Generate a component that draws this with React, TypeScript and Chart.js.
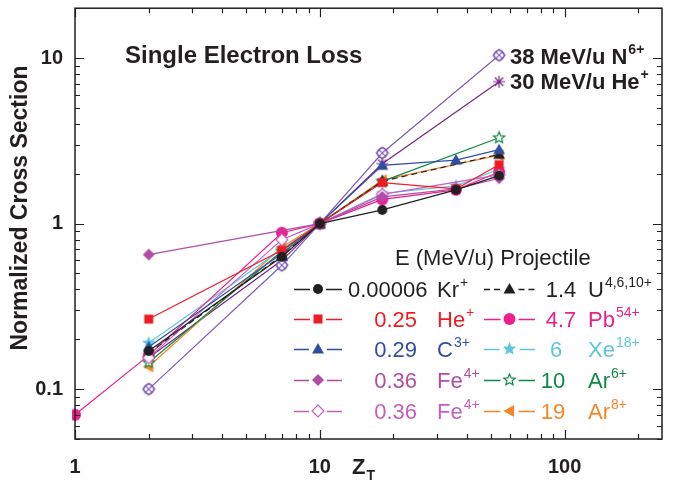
import React, { useEffect, useRef } from 'react';
import { Chart, registerables } from 'chart.js';
Chart.register(...registerables);

// ---------- data ----------
const X_TICK_LABELS = [1, 10, 100];
const Y_TICK_LABELS = [0.1, 1, 10];

const krX = [2, 7, 10, 18, 36, 54];
const krY = [0.17, 0.63, 1, 1.21, 1.6, 1.95];
const he025X = [2, 7, 10, 18, 36, 54];
const he025Y = [0.265, 0.69, 1, 1.77, 1.62, 2.27];
const c3X = [2, 7, 10, 18, 36, 54];
const c3Y = [0.18, 0.66, 1, 2.25, 2.42, 2.8];
const feAX = [2, 10, 18, 36, 54];
const feAY = [0.65, 1, 1.45, 1.62, 1.88];
const feBX = [2, 7, 10, 18, 54];
const feBY = [0.155, 0.8, 1, 1.5, 1.97];
const uX = [2, 7, 10, 18, 54];
const uY = [0.165, 0.64, 1, 1.8, 2.62];
const pbX = [1, 2, 7, 10, 18, 36, 54];
const pbY = [0.07, 0.16, 0.88, 1, 1.4, 1.6, 2.05];
const xeX = [2, 7, 10, 18, 36, 54];
const xeY = [0.19, 0.7, 1, 1.52, 1.69, 2.13];
const ar6X = [2, 7, 10, 18, 54];
const ar6Y = [0.145, 0.68, 1, 1.8, 3.3];
const ar8X = [2, 7, 10, 18, 54];
const ar8Y = [0.137, 0.72, 1, 1.83, 2.59];
const n6X = [2, 7, 10, 18, 54];
const n6Y = [0.1, 0.56, 1, 2.67, 10.4];
const he30X = [2, 7, 10, 18, 54];
const he30Y = [0.155, 0.6, 1, 2.3, 7.2];

const ENERGIES = ['0.00006', '0.25', '0.29', '0.36', '0.36', '1.4', '4.7', '6', '10', '19', '38', '30'];
const IONS = ['Kr', 'He', 'C', 'Fe', 'Fe', 'U', 'Pb', 'Xe', 'Ar', 'Ar', 'N', 'He'];
const CHARGES = ['+', '+', '3+', '4+', '4+', '4,6,10+', '54+', '18+', '6+', '8+', '6+', '+'];

// ---------- styles ----------
const FONT = '"Liberation Sans", Arial, Helvetica, sans-serif';
const INK = '#231f20';

type Marker = 'circle' | 'square' | 'triangle' | 'triangleLeft' | 'diamond' | 'diamondOpen' | 'star' | 'starOpen' | 'xcircle' | 'asterisk';

const SERIES: { xs: number[]; ys: number[]; color: string; marker: Marker; dash?: number[]; r: number }[] = [
  { xs: krX, ys: krY, color: INK, marker: 'circle', r: 5 },
  { xs: he025X, ys: he025Y, color: '#ed1c24', marker: 'square', r: 5 },
  { xs: c3X, ys: c3Y, color: '#2f4ea2', marker: 'triangle', r: 6 },
  { xs: feAX, ys: feAY, color: '#b04ea6', marker: 'diamond', r: 6 },
  { xs: feBX, ys: feBY, color: '#c45fc0', marker: 'diamondOpen', r: 6 },
  { xs: uX, ys: uY, color: INK, marker: 'triangle', dash: [6, 4], r: 6 },
  { xs: pbX, ys: pbY, color: '#ec1f8c', marker: 'circle', r: 6 },
  { xs: xeX, ys: xeY, color: '#5ec7df', marker: 'star', r: 7 },
  { xs: ar6X, ys: ar6Y, color: '#0f8a46', marker: 'starOpen', r: 6 },
  { xs: ar8X, ys: ar8Y, color: '#f5862a', marker: 'triangleLeft', r: 6 },
  { xs: n6X, ys: n6Y, color: '#7d5db7', marker: 'xcircle', r: 6 },
  { xs: he30X, ys: he30Y, color: '#7a2585', marker: 'asterisk', r: 6 },
];

function starPath(ctx: CanvasRenderingContext2D, x: number, y: number, r: number) {
  const inner = r * 0.45;
  ctx.beginPath();
  for (let i = 0; i < 10; i++) {
    const a = -Math.PI / 2 + (i * Math.PI) / 5;
    const rr = i % 2 === 0 ? r : inner;
    const px = x + rr * Math.cos(a);
    const py = y + rr * Math.sin(a);
    if (i === 0) ctx.moveTo(px, py);
    else ctx.lineTo(px, py);
  }
  ctx.closePath();
}

function drawMarker(ctx: CanvasRenderingContext2D, type: Marker, x: number, y: number, r: number, color: string) {
  ctx.save();
  ctx.setLineDash([]);
  ctx.strokeStyle = color;
  ctx.fillStyle = color;
  ctx.lineWidth = 1.2;
  switch (type) {
    case 'circle':
      ctx.beginPath();
      ctx.arc(x, y, r, 0, Math.PI * 2);
      ctx.fill();
      break;
    case 'square':
      ctx.fillRect(x - r * 0.9, y - r * 0.9, r * 1.8, r * 1.8);
      break;
    case 'triangle':
      ctx.beginPath();
      ctx.moveTo(x, y - r);
      ctx.lineTo(x + r, y + r * 0.75);
      ctx.lineTo(x - r, y + r * 0.75);
      ctx.closePath();
      ctx.fill();
      break;
    case 'triangleLeft':
      ctx.beginPath();
      ctx.moveTo(x - r, y);
      ctx.lineTo(x + r * 0.75, y - r);
      ctx.lineTo(x + r * 0.75, y + r);
      ctx.closePath();
      ctx.fill();
      break;
    case 'diamond':
    case 'diamondOpen':
      ctx.beginPath();
      ctx.moveTo(x, y - r);
      ctx.lineTo(x + r, y);
      ctx.lineTo(x, y + r);
      ctx.lineTo(x - r, y);
      ctx.closePath();
      if (type === 'diamond') ctx.fill();
      else {
        ctx.fillStyle = '#ffffff';
        ctx.fill();
        ctx.stroke();
      }
      break;
    case 'star':
      starPath(ctx, x, y, r);
      ctx.fill();
      break;
    case 'starOpen':
      starPath(ctx, x, y, r);
      ctx.fillStyle = '#ffffff';
      ctx.fill();
      ctx.stroke();
      break;
    case 'xcircle': {
      ctx.beginPath();
      ctx.arc(x, y, r * 0.85, 0, Math.PI * 2);
      ctx.fillStyle = '#ffffff';
      ctx.fill();
      ctx.stroke();
      ctx.beginPath();
      ctx.moveTo(x, y - r);
      ctx.lineTo(x + r, y);
      ctx.lineTo(x, y + r);
      ctx.lineTo(x - r, y);
      ctx.closePath();
      ctx.moveTo(x - r * 0.6, y - r * 0.6);
      ctx.lineTo(x + r * 0.6, y + r * 0.6);
      ctx.moveTo(x + r * 0.6, y - r * 0.6);
      ctx.lineTo(x - r * 0.6, y + r * 0.6);
      ctx.stroke();
      break;
    }
    case 'asterisk': {
      ctx.beginPath();
      for (let i = 0; i < 4; i++) {
        const a = (i * Math.PI) / 4;
        ctx.moveTo(x - r * Math.cos(a), y - r * Math.sin(a));
        ctx.lineTo(x + r * Math.cos(a), y + r * Math.sin(a));
      }
      ctx.stroke();
      break;
    }
  }
  ctx.restore();
}

function markerCanvas(type: Marker, r: number, color: string): HTMLCanvasElement {
  const size = Math.ceil(r * 2 + 6);
  const c = document.createElement('canvas');
  c.width = size;
  c.height = size;
  const ctx = c.getContext('2d')!;
  drawMarker(ctx, type, size / 2, size / 2, r, color);
  return c;
}

type Piece = { t: string; sup?: boolean; sub?: boolean };

function drawRich(
  ctx: CanvasRenderingContext2D,
  pieces: Piece[],
  x: number,
  y: number,
  size: number,
  weight: string,
  color: string,
  align: 'left' | 'right' | 'center' = 'left'
) {
  ctx.save();
  ctx.fillStyle = color;
  ctx.textBaseline = 'alphabetic';
  ctx.textAlign = 'left';
  const main = `${weight} ${size}px ${FONT}`;
  const small = `${weight} ${Math.round(size * 0.64)}px ${FONT}`;
  let w = 0;
  for (const p of pieces) {
    ctx.font = p.sup || p.sub ? small : main;
    w += ctx.measureText(p.t).width + (p.sup || p.sub ? 1 : 0);
  }
  let cx = align === 'left' ? x : align === 'right' ? x - w : x - w / 2;
  for (const p of pieces) {
    if (p.sup || p.sub) {
      ctx.font = small;
      const dy = p.sup ? -size * 0.45 : size * 0.28;
      ctx.fillText(p.t, cx + 1, y + dy);
      cx += ctx.measureText(p.t).width + 1;
    } else {
      ctx.font = main;
      ctx.fillText(p.t, cx, y);
      cx += ctx.measureText(p.t).width;
    }
  }
  ctx.restore();
}

const decorPlugin = {
  id: 'decor',
  afterDraw(chart: any) {
    const ctx: CanvasRenderingContext2D = chart.ctx;
    const { left, right, top, bottom } = chart.chartArea;
    const xs = chart.scales.x;
    const ys = chart.scales.y;
    ctx.save();
    // frame
    ctx.strokeStyle = INK;
    ctx.lineWidth = 1.5;
    ctx.strokeRect(left, top, right - left, bottom - top);
    // ticks
    ctx.lineWidth = 1.2;
    ctx.beginPath();
    for (const d of [1, 10, 100]) {
      for (let m = 1; m <= 9; m++) {
        const v = d * m;
        if (v < xs.min || v > xs.max) continue;
        const px = Math.round(xs.getPixelForValue(v)) + 0.5;
        const len = m === 1 ? 9 : 5;
        ctx.moveTo(px, bottom);
        ctx.lineTo(px, bottom - len);
        ctx.moveTo(px, top);
        ctx.lineTo(px, top + len);
      }
    }
    for (const d of [0.01, 0.1, 1, 10]) {
      for (let m = 1; m <= 9; m++) {
        const v = d * m;
        if (v < ys.min * 0.999 || v > ys.max * 1.001) continue;
        const py = Math.round(ys.getPixelForValue(v)) + 0.5;
        const len = m === 1 ? 9 : 5;
        ctx.moveTo(left, py);
        ctx.lineTo(left + len, py);
        ctx.moveTo(right, py);
        ctx.lineTo(right - len, py);
      }
    }
    ctx.stroke();
    // tick labels
    ctx.fillStyle = INK;
    ctx.font = `bold 20px ${FONT}`;
    ctx.textAlign = 'center';
    ctx.textBaseline = 'middle';
    for (const v of X_TICK_LABELS) {
      ctx.fillText(String(v), xs.getPixelForValue(v), bottom + 28);
    }
    ctx.textAlign = 'right';
    for (const v of Y_TICK_LABELS) {
      ctx.fillText(String(v), left - 12, ys.getPixelForValue(v));
    }
    // axis titles
    drawRich(ctx, [{ t: 'Z' }, { t: 'T', sub: true }], 352, 474, 22, 'bold', INK, 'left');
    ctx.save();
    ctx.translate(27, 208);
    ctx.rotate(-Math.PI / 2);
    ctx.font = `bold 23px ${FONT}`;
    ctx.textAlign = 'center';
    ctx.textBaseline = 'alphabetic';
    ctx.fillText('Normalized Cross Section', 0, 0);
    ctx.restore();
    // annotations
    drawRich(ctx, [{ t: 'Single Electron Loss' }], 125, 63, 24, 'bold', INK, 'left');
    drawRich(ctx, [{ t: `${ENERGIES[10]} MeV/u ${IONS[10]}` }, { t: CHARGES[10], sup: true }], 510, 64, 22, 'bold', INK, 'left');
    drawRich(ctx, [{ t: `${ENERGIES[11]} MeV/u ${IONS[11]}` }, { t: CHARGES[11], sup: true }], 510, 89, 22, 'bold', INK, 'left');
    // legend
    drawRich(ctx, [{ t: 'E (MeV/u) Projectile' }], 395, 265, 22, 'normal', INK, 'left');
    const rows = [289, 319, 349, 380, 411];
    const drawEntry = (i: number, lx0: number, lx1: number, row: number, valX: number, valAlign: 'left' | 'right' | 'center', ionX: number) => {
      const s = SERIES[i];
      const mx = (lx0 + lx1) / 2;
      const gap = s.r + 3;
      ctx.save();
      ctx.strokeStyle = s.color;
      ctx.lineWidth = 1.3;
      ctx.setLineDash(s.dash || []);
      ctx.beginPath();
      ctx.moveTo(lx0, row + 0.5);
      ctx.lineTo(mx - gap, row + 0.5);
      ctx.moveTo(mx + gap, row + 0.5);
      ctx.lineTo(lx1, row + 0.5);
      ctx.stroke();
      ctx.restore();
      drawMarker(ctx, s.marker, mx, row, s.r, s.color);
      drawRich(ctx, [{ t: ENERGIES[i] }], valX, row + 8, 22, 'normal', s.color, valAlign);
      drawRich(ctx, [{ t: IONS[i] }, { t: CHARGES[i], sup: true }], ionX, row + 8, 22, 'normal', s.color, 'left');
    };
    // left column
    drawEntry(0, 294, 342, rows[0], 348, 'left', 437);
    for (let k = 1; k <= 4; k++) drawEntry(k, 294, 342, rows[k], 417, 'right', 437);
    // right column
    const rightVal = [561, 561, 556, 553, 553];
    for (let k = 0; k < 5; k++) drawEntry(5 + k, 484, 535, rows[k], rightVal[k], 'center', 588);
    ctx.restore();
  },
};

export default function App() {
  const ref = useRef<HTMLCanvasElement | null>(null);
  useEffect(() => {
    if (!ref.current) return;
    const datasets = SERIES.map((s) => ({
      data: s.xs.map((x, i) => ({ x, y: s.ys[i] })),
      borderColor: s.color,
      backgroundColor: s.color,
      borderWidth: 1.2,
      borderDash: s.dash || [],
      pointStyle: markerCanvas(s.marker, s.r, s.color),
      pointRadius: s.r,
      tension: 0,
      clip: 3,
    }));
    const chart = new Chart(ref.current, {
      type: 'line',
      data: { datasets: datasets as any },
      options: {
        animation: false,
        responsive: false,
        maintainAspectRatio: false,
        layout: { padding: { left: 75, top: 6, right: 12, bottom: 46 } },
        plugins: { legend: { display: false }, tooltip: { enabled: false } },
        scales: {
          x: {
            type: 'logarithmic',
            min: 1,
            max: 250,
            ticks: { display: false },
            grid: { display: false, drawTicks: false },
            border: { display: false },
            afterFit: (s: any) => {
              s.height = 0;
            },
          },
          y: {
            type: 'logarithmic',
            min: 0.05,
            max: 20,
            ticks: { display: false },
            grid: { display: false, drawTicks: false },
            border: { display: false },
            afterFit: (s: any) => {
              s.width = 0;
            },
          },
        },
      } as any,
      plugins: [decorPlugin],
    });
    return () => chart.destroy();
  }, []);
  return (
    <div style={{ position: 'absolute', left: 0, top: 0, width: 674, height: 485, background: '#fff' }}>
      <canvas ref={ref} width={674} height={485} style={{ display: 'block', width: 674, height: 485 }} />
    </div>
  );
}
